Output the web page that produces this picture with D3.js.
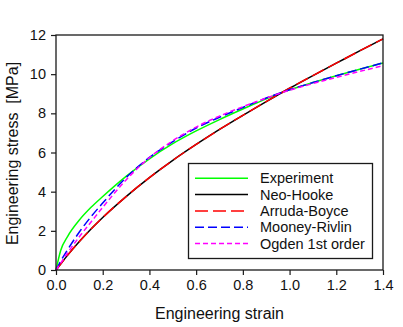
<!DOCTYPE html>
<html>
<head>
<meta charset="utf-8">
<script src="https://cdn.jsdelivr.net/npm/d3@7"></script>
<style>
  body { margin: 0; background: white; }
  svg { display: block; font-family: "Liberation Sans", Arial, sans-serif; }
</style>
</head>
<body>
<div id="chart"></div>
<script>
// engineering strain sample points
var strain = [0, 0.02, 0.05, 0.1, 0.15, 0.2, 0.3, 0.4, 0.5, 0.6, 0.7, 0.8, 0.9, 1.0, 1.1, 1.2, 1.3, 1.4];

// engineering stress [MPa]
var experiment = [0, 1.0, 1.72, 2.55, 3.2, 3.75, 4.78, 5.68, 6.45, 7.1, 7.68, 8.22, 8.74, 9.2, 9.57, 9.92, 10.25, 10.57];
var neoHooke = [0, 0.31, 0.76, 1.45, 2.09, 2.68, 3.75, 4.72, 5.6, 6.41, 7.18, 7.9, 8.6, 9.28, 9.93, 10.56, 11.19, 11.8];
var arrudaBoyce = [0, 0.31, 0.76, 1.45, 2.09, 2.68, 3.75, 4.72, 5.6, 6.41, 7.18, 7.9, 8.6, 9.28, 9.93, 10.56, 11.19, 11.8];
var mooneyRivlin = [0, 0.45, 1.04, 1.94, 2.72, 3.42, 4.72, 5.75, 6.55, 7.25, 7.8, 8.3, 8.78, 9.2, 9.57, 9.92, 10.25, 10.58];
var ogden = [0, 0.35, 0.88, 1.7, 2.45, 3.2, 4.6, 5.74, 6.6, 7.3, 7.86, 8.34, 8.78, 9.18, 9.52, 9.84, 10.14, 10.43];

var seriesNames = ["Experiment", "Neo-Hooke", "Arruda-Boyce", "Mooney-Rivlin", "Ogden 1st order"];
var seriesValues = [experiment, neoHooke, arrudaBoyce, mooneyRivlin, ogden];
var seriesColors = ["#00ff00", "#000000", "#ff0000", "#0000ff", "#ff00ff"];
var seriesDash = [null, null, "13,5", "9,4", "5,3"];

var xTicks = [0, 0.2, 0.4, 0.6, 0.8, 1.0, 1.2, 1.4];
var yTicks = [0, 2, 4, 6, 8, 10, 12];

function drawChart() {

    var width = 403;
    var height = 327;

    var margin = {
        top: 35,
        left: 56,
        right: 20,
        bottom: 57,
    };

    var svg = d3.select("#chart").append("svg")
        .attr("width", width)
        .attr("height", height);

    var x = d3.scaleLinear()
        .domain([0, 1.4])
        .range([margin.left, width - margin.right]);

    var y = d3.scaleLinear()
        .domain([0, 12])
        .range([height - margin.bottom, margin.top]);

    // curves
    var line = d3.line()
        .x(function(d) { return x(d[0]); })
        .y(function(d) { return y(d[1]); })
        .curve(d3.curveMonotoneX);

    seriesValues.forEach(function(vals, i) {
        svg.append("path")
            .datum(strain.map(function(s, j) { return [s, vals[j]]; }))
            .attr("d", line)
            .attr("fill", "none")
            .attr("stroke", seriesColors[i])
            .attr("stroke-width", 1.5)
            .attr("stroke-dasharray", seriesDash[i]);
    });

    // frame
    svg.append("rect")
        .attr("x", x(0))
        .attr("y", y(12))
        .attr("width", x(1.4) - x(0))
        .attr("height", y(0) - y(12))
        .attr("fill", "none")
        .attr("stroke", "#1a1a1a")
        .attr("stroke-width", 1.3);

    var xAxis = svg.append("g")
        .attr("transform", "translate(0," + y(0) + ")")
        .call(d3.axisBottom(x).tickValues(xTicks).tickSize(5).tickPadding(5)
            .tickFormat(d3.format(".1f")));

    var yAxis = svg.append("g")
        .attr("transform", "translate(" + x(0) + ",0)")
        .call(d3.axisLeft(y).tickValues(yTicks).tickSize(5).tickPadding(5));

    [xAxis, yAxis].forEach(function(g) {
        g.select(".domain").remove();
        g.selectAll("line").attr("stroke", "#1a1a1a").attr("stroke-width", 1.2);
        g.selectAll("text")
            .attr("fill", "#111")
            .style("font-size", "14.5px")
            .style("font-family", "'Liberation Sans', Arial, sans-serif");
    });

    // axis titles
    svg.append("text")
        .attr("x", (x(0) + x(1.4)) / 2)
        .attr("y", 319)
        .attr("text-anchor", "middle")
        .style("font-size", "16px")
        .attr("fill", "#111")
        .text("Engineering strain");

    svg.append("text")
        .attr("transform", "translate(17.5," + ((y(0) + y(12)) / 2 + 1) + ") rotate(-90)")
        .attr("text-anchor", "middle")
        .style("font-size", "16px")
        .style("white-space", "pre")
        .attr("fill", "#111")
        .text("Engineering stress  [MPa]");

    // legend
    var legend = svg.append("g");

    legend.append("rect")
        .attr("x", 188.5)
        .attr("y", 163.5)
        .attr("width", 184)
        .attr("height", 95)
        .attr("fill", "white")
        .attr("stroke", "#1a1a1a")
        .attr("stroke-width", 1.3);

    seriesNames.forEach(function(name, i) {
        var ry = 178.3 + i * 16.3;
        legend.append("line")
            .attr("x1", 195)
            .attr("x2", 248)
            .attr("y1", ry)
            .attr("y2", ry)
            .attr("stroke", seriesColors[i])
            .attr("stroke-width", 1.5)
            .attr("stroke-dasharray", seriesDash[i]);
        legend.append("text")
            .attr("x", 260)
            .attr("y", ry + 5)
            .style("font-size", "14.5px")
            .attr("fill", "#111")
            .text(name);
    });
}

drawChart();
</script>
</body>
</html>
